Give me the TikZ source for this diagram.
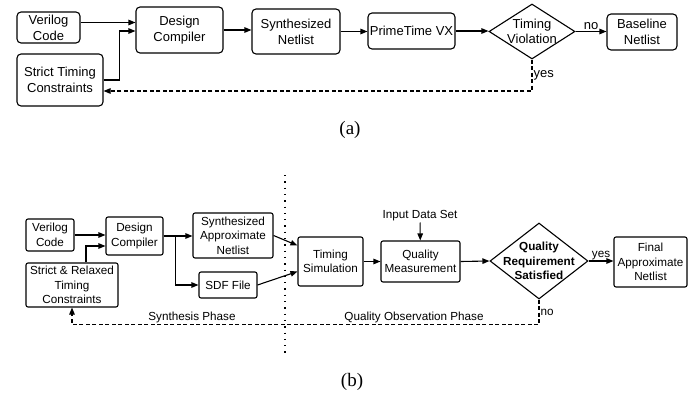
\documentclass[tikz,border=0pt]{standalone}
\usepackage{fontspec}
\setmainfont{Liberation Sans}
\newfontfamily\capfont{Liberation Serif}
\usetikzlibrary{positioning, shapes.geometric, arrows.meta}

\begin{document}
\begin{tikzpicture}[
  x=1pt, y=-1pt,
  box/.style={draw, rounded corners=4pt, line width=1.1pt, align=center, inner sep=0pt,
    font=\fontsize{13}{16}\selectfont},
  sbox/.style={box, rounded corners=2pt, font=\fontsize{11.7}{14.5}\selectfont},
  dec/.style={draw, diamond, line width=1.1pt, inner sep=0pt},
  lab/.style={font=\fontsize{13}{15}\selectfont, inner sep=1pt},
  slab/.style={font=\fontsize{11.7}{14}\selectfont, inner sep=1pt},
  arr/.style={line width=1.1pt, -{Triangle[length=7pt,width=5.5pt]}},
  fb/.style={dash pattern=on 4pt off 2.5pt},
  sepline/.style={line width=1.3pt, dash pattern=on 1.3pt off 5pt}
]
  \useasboundingbox (0,0) rectangle (696,393);

  % (a) baseline flow
  \node[box, minimum width=63pt, minimum height=31pt] (vc) at (48.5,27.5) {Verilog\\Code};
  \node[box, minimum width=86pt, minimum height=52pt] (stc) at (60,80) {Strict Timing\\Constraints};
  \node[box, minimum width=87pt, minimum height=46pt] (dc) at (179.5,30) {Design\\Compiler};
  \node[box, minimum width=88pt, minimum height=45pt] (sn) at (296,31.5) {Synthesized\\Netlist};
  \node[box, minimum width=87pt, minimum height=36pt] (pt) at (411.5,31) {PrimeTime VX};
  \node[dec, minimum width=86pt, minimum height=55pt,
    label={[lab, align=center, font=\fontsize{13}{15}\selectfont]center:{Timing\\Violation}}] (tv) at (532,31.5) {};
  \node[box, minimum width=70pt, minimum height=36pt] (bn) at (642,32) {Baseline\\Netlist};

  \draw[arr] ([yshift=5pt]vc.east) -- ([yshift=5pt]vc.east -| dc.west);
  \draw[arr] (stc.east) -- ++(16,0) |- ([yshift=-1pt]dc.west);
  \draw[arr] (dc.east) -- (dc.east -| sn.west);
  \draw[arr] (sn.east) -- (sn.east -| pt.west);
  \draw[arr] (pt.east) -- (pt.east -| tv.west);
  \draw[arr] (tv.east) -- node[lab, above]{no} (tv.east -| bn.west);
  \draw[arr, fb] (tv.south) |- node[lab, right, pos=0.25]{yes} ([yshift=-11pt]stc.east);

  \node[font=\capfont\fontsize{19}{21}\selectfont] (capa) at (350,130) {(a)};

  % (b) approximate flow
  \coordinate (sep1) at (285,175);
  \coordinate (sep2) at (285,357);
  \draw[sepline] (sep1) -- (sep2);

  \node[sbox, minimum width=48pt, minimum height=32pt] (vc2) at (50,235) {Verilog\\Code};
  \node[sbox, minimum width=57pt, minimum height=38pt] (dc2) at (134.5,236) {Design\\Compiler};
  \node[sbox, minimum width=92pt, minimum height=44pt] (src) at (72,285) {Strict \& Relaxed\\Timing\\Constraints};
  \node[sbox, minimum width=80pt, minimum height=45pt] (san) at (233,235.5) {Synthesized\\Approximate\\Netlist};
  \node[sbox, minimum width=58pt, minimum height=26pt] (sdf) at (228,285) {SDF File};
  \node[sbox, minimum width=65pt, minimum height=49pt] (ts) at (330.5,261.5) {Timing\\Simulation};
  \node[sbox, minimum width=79pt, minimum height=41pt] (qm) at (420.5,261.5) {Quality\\Measurement};
  \node[slab] (ids) at (420,216) {Input Data Set};
  \node[dec, minimum width=98pt, minimum height=76pt,
    label={[slab, align=center, font=\fontsize{11.7}{14.5}\selectfont\bfseries]center:{Quality\\Requirement\\Satisfied}}] (qrs) at (539,261) {};
  \node[sbox, minimum width=73pt, minimum height=50pt] (fan) at (650.5,262) {Final\\Approximate\\Netlist};

  \draw[arr] (vc2.east) -- (vc2.east -| dc2.west);
  \draw[arr] ([xshift=14pt]src.north) |- ([yshift=-10pt]dc2.west);
  \draw[arr] (dc2.east) -- (dc2.east -| san.west);
  \draw[arr] (dc2.east) -- ++(12,0) |- (sdf.west);
  \draw[arr] (san.east) -- ([yshift=16pt]ts.west);
  \draw[arr] (sdf.east) -- ([yshift=-10pt]ts.west);
  \draw[arr] (ts.east) -- (qm.west);
  \draw[arr] (ids) -- (qm);
  \draw[arr] (qm.east) -- (qrs.west);
  \draw[arr] (qrs.east) -- node[slab, above]{yes} (qrs.east -| fan.west);
  \draw[arr, fb] (qrs.south) -- node[slab, right]{no} ++(0,25) -| (src.south);

  \node[slab] (synph) at (192,317) {Synthesis Phase};
  \node[slab] (qoph) at (414,317) {Quality Observation Phase};

  \node[font=\capfont\fontsize{19}{21}\selectfont] (capb) at (352,382) {(b)};
\end{tikzpicture}
\end{document}
